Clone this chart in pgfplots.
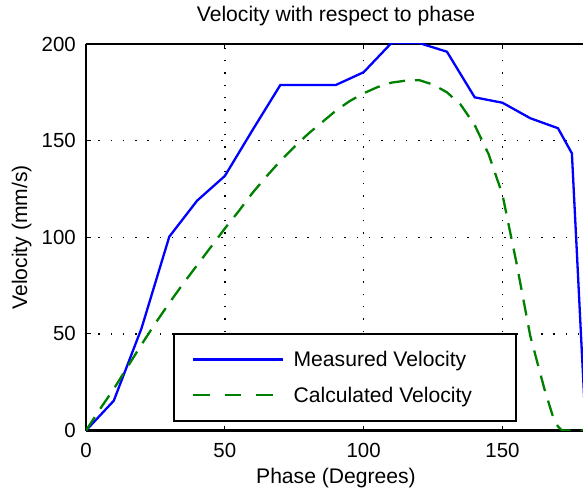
\documentclass[border=0pt]{standalone}
\usepackage{fontspec}
\setmainfont{Liberation Sans}
\usepackage{pgfplots}
\pgfplotsset{compat=1.18}
\usetikzlibrary{calc}
\definecolor{mblue}{RGB}{0,0,255}
\definecolor{mgreen}{RGB}{0,128,0}
\begin{document}
\begin{tikzpicture}
\begin{axis}[
  scale only axis,
  width=497bp, height=386.5bp,
  xmin=0, xmax=179, ymin=0, ymax=200,
  xtick={0,50,100,150}, ytick={0,50,100,150,200},
  axis x line=box, axis y line=left,
  axis line style={-, line width=2.5bp, black},
  major tick length=5bp,
  tick style={line width=1.2bp, black},
  tick align=inside,
  grid=major,
  grid style={black, line width=1.4bp, dash pattern=on 1.4bp off 10.9bp},
  font=\fontsize{21.2}{25}\selectfont,
  /pgf/number format/assume math mode=true,
  ticklabel style={font=\fontsize{20.5}{24}\selectfont},
  xticklabel style={anchor=base, yshift=-26.8bp, inner sep=0pt},
  yticklabel style={anchor=east, xshift=-10bp, inner sep=0pt},
  title={Velocity with respect to phase},
  title style={at={(0.503,1)}, anchor=base, yshift=16.3bp, inner sep=0pt},
  xlabel={Phase (Degrees)},
  xlabel style={at={(0.503,0)}, anchor=base, yshift=-52.5bp, inner sep=0pt},
  ylabel={Velocity (mm/s)},
  ylabel style={at={(axis description cs:-0.1187,0.5)}, anchor=base, inner sep=0pt},
  legend cell align=left,
  legend style={at={(0.1757,0.0228)}, anchor=south west, draw=black, line width=2bp,
    inner xsep=18bp, inner ysep=17bp, row sep=19bp,
    nodes={inner sep=0pt, font=\fontsize{21.2}{25}\selectfont}},
  legend image code/.code={\draw[#1] (0bp,0bp) -- (90bp,0bp);},
]
\addplot[mblue, line width=2.3bp, forget plot] coordinates {
(0,0) (10,15.4) (20,52.9) (30,100.3) (40,118.9) (50,131.7) (60,155.5)
(70,178.8) (80,178.8) (90,178.8) (100,185.4) (110,200.5) (120,200.5)
(130,196) (140,172.4) (150,169.6) (160,161.6) (170,156.4) (175,143.4) (180,0)
};
\addplot[mgreen, line width=2.3bp, dash pattern=on 16bp off 10bp, forget plot] coordinates {
(0,0) (5,11) (10,21.5) (15,33) (20,44.5) (25,55.5) (30,66) (35,76) (40,85.5)
(45,95) (50,104.5) (55,113.5) (60,123) (65,131.5) (70,139.5) (75,146.7)
(80,153.5) (85,159.5) (90,165.5) (95,170.5) (100,174.5) (105,177.7) (110,180)
(115,181) (120,181.3) (125,179) (130,175) (135,168.5) (140,158) (145,143)
(150,122) (155,87) (160,49) (165,22) (168,8) (170,2) (171.5,0) (180,0)
};
\addlegendimage{mblue, line width=2.3bp}
\addlegendentry{\makebox[213bp][l]{\hspace{9bp}Measured Velocity}}
\addlegendimage{mgreen, line width=2.3bp, dash pattern=on 16.5bp off 15bp}
\addlegendentry{\makebox[213bp][l]{\hspace{9bp}Calculated Velocity}}
\coordinate (bl) at (rel axis cs:0,0);
\coordinate (tr) at (rel axis cs:1,1);
\end{axis}
\pgfresetboundingbox
\path ($(bl)+(-86bp,-58.5bp)$) rectangle ($(tr)+(0bp,44bp)$);
\end{tikzpicture}
\end{document}
